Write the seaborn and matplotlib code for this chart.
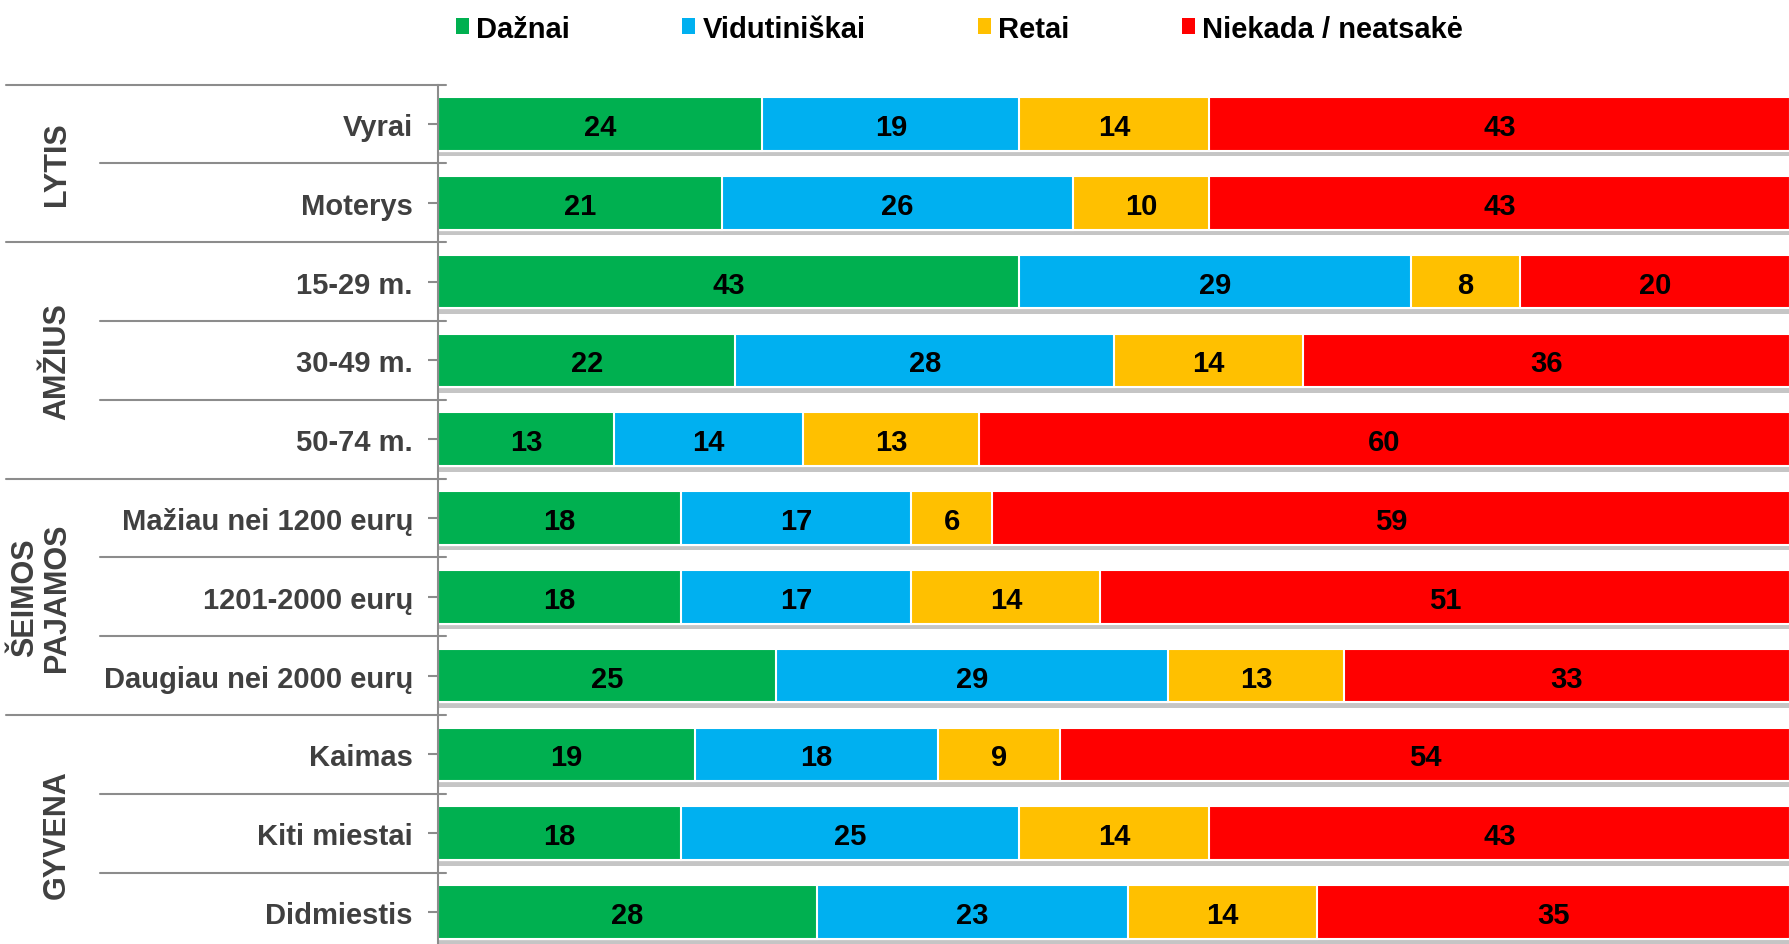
import matplotlib
matplotlib.use("Agg")
import matplotlib.pyplot as plt
import matplotlib.patheffects as pe
import matplotlib.transforms as mtransforms
from matplotlib.patches import Patch
from matplotlib.lines import Line2D
import seaborn as sns
import pandas as pd
import numpy as np

rows = ["Vyrai", "Moterys", "15-29 m.", "30-49 m.", "50-74 m.",
        "Mažiau nei 1200 eurų", "1201-2000 eurų", "Daugiau nei 2000 eurų",
        "Kaimas", "Kiti miestai", "Didmiestis"]
series = ["Dažnai", "Vidutiniškai", "Retai", "Niekada / neatsakė"]
daznai = [24, 21, 43, 22, 13, 18, 18, 25, 19, 18, 28]
vidutiniskai = [19, 26, 29, 28, 14, 17, 17, 29, 18, 25, 23]
retai = [14, 10, 8, 14, 13, 6, 14, 13, 9, 14, 14]
niekada = [43, 43, 20, 36, 60, 59, 51, 33, 54, 43, 35]
colors = ["#00B050", "#00B0F0", "#FFC000", "#FF0000"]
groups = ["LYTIS", "AMŽIUS", "ŠEIMOS\nPAJAMOS", "GYVENA"]
group_sizes = [2, 3, 3, 3]

sns.set_theme(style="white")
plt.rcParams['font.family'] = ['Liberation Sans', 'DejaVu Sans']

W, H = 1790, 945
fig = plt.figure(figsize=(W / 100, H / 100), dpi=100)
top_px, row_px = 85.6, 78.8
ax_left = 438 / W
ax = fig.add_axes([ax_left, 1 - (top_px + 11 * row_px) / H, 1 - ax_left, 11 * row_px / H])

vals = np.array([daznai, vidutiniskai, retai, niekada])
cum = vals.cumsum(axis=0)

for k in range(3, -1, -1):
    sub = pd.DataFrame({"row": rows, "v": cum[k]})
    n_before = len(ax.patches)
    sns.barplot(data=sub, x="v", y="row", order=rows, orient="h",
                color=colors[k], saturation=1, width=0.68,
                edgecolor="white", linewidth=1.5, errorbar=None, ax=ax)
    if k == 3:
        for p in ax.patches[n_before:]:
            p.set_path_effects([pe.SimplePatchShadow(offset=(0, -4), shadow_rgbFace="#7f7f7f", alpha=0.45),
                                pe.Normal()])

for k in range(4):
    for i in range(len(rows)):
        ax.text(cum[k][i] - vals[k][i] / 2, i, str(vals[k][i]), ha="center", va="center_baseline",
                fontsize=21, fontweight="bold", color="black")

ax.set_xlim(0, 100)
ax.set_ylim(10.5, -0.5)
ax.set_xlabel("")
ax.set_ylabel("")
ax.set_xticks([])
for s in ["top", "right", "bottom"]:
    ax.spines[s].set_visible(False)
ax.spines["left"].set_color("#8c8c8c")
ax.spines["left"].set_linewidth(1.5)
ax.tick_params(axis="y", left=True, length=7, width=1.5, color="#8c8c8c", pad=11,
               labelsize=21, labelcolor="#404040")
for t in ax.get_yticklabels():
    t.set_fontweight("bold")

trans = mtransforms.blended_transform_factory(fig.transFigure, ax.transData)
group_bounds = [-0.5]
acc = -0.5
for g in group_sizes:
    acc += g
    group_bounds.append(acc)
x_end = 446 / W
for b in np.arange(-0.5, 10.6, 1.0):
    x0 = 5.7 / W if any(abs(b - gb) < 1e-6 for gb in group_bounds) else 100 / W
    fig.add_artist(Line2D([x0, x_end], [b, b], transform=trans, color="#8c8c8c", lw=1.5))

start = 0
for g, n in zip(groups, group_sizes):
    yc = start + (n - 1) / 2
    xc = 41 / W if "\n" in g else 57 / W
    fig.text(xc, yc, g, transform=trans, rotation=90, ha="center", va="center",
             multialignment="center", fontsize=22, fontweight="bold", color="#404040",
             linespacing=1.05)
    start += n

handles = [Patch(facecolor=c, edgecolor="none") for c in colors]
fig.legend(handles, series, loc="center", bbox_to_anchor=(0.536, 1 - 29.5 / H), ncol=4,
           frameon=False, prop={"weight": "bold", "size": 21}, labelcolor="black",
           handlelength=0.45, handleheight=0.45, handletextpad=0.25,
           columnspacing=3.85, borderaxespad=0)

fig.savefig("out.png", dpi=100)
